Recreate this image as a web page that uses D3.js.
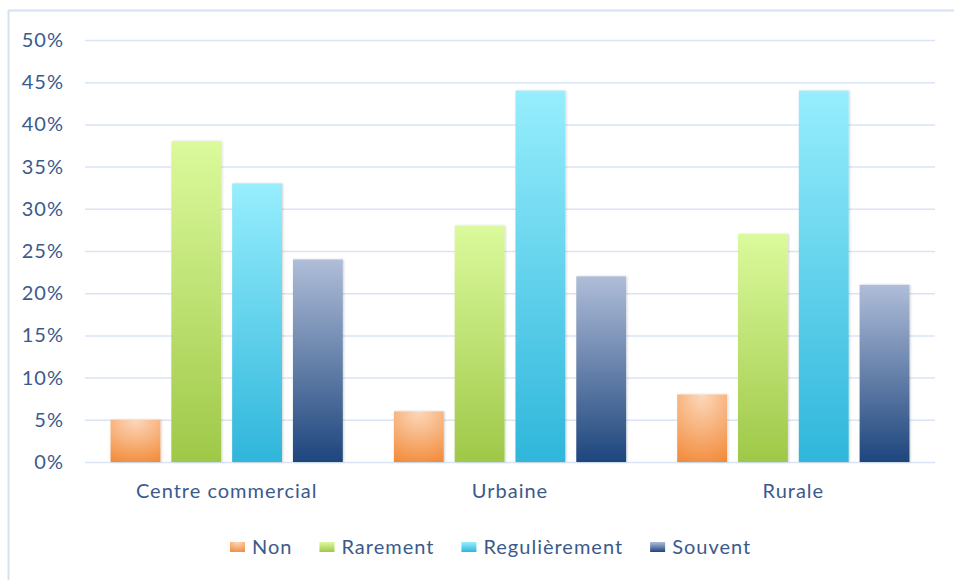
<!DOCTYPE html>
<html><head><meta charset="utf-8">
<script src="https://cdn.jsdelivr.net/npm/d3@7"></script>
<style>
html,body{margin:0;padding:0;background:#fff;}
svg{display:block;}
text{font-family:Lato,"Open Sans",sans-serif;fill:#3b5a8c;letter-spacing:1px;}
</style></head><body>
<svg id="chart" width="954" height="580"></svg>
<script>
const categories = ["Centre commercial", "Urbaine", "Rurale"];
const seriesNames = ["Non", "Rarement", "Regulièrement", "Souvent"];
const nonValues = [5, 6, 8];
const rarementValues = [38, 28, 27];
const regulierementValues = [33, 44, 44];
const souventValues = [24, 22, 21];
const yTicks = [0, 5, 10, 15, 20, 25, 30, 35, 40, 45, 50];
const seriesValues = [nonValues, rarementValues, regulierementValues, souventValues];
const gradStops = [
  ["#fcd8bc", "#f28a38"],
  ["#dbfa9c", "#9fc848"],
  ["#97eefd", "#2fb6db"],
  ["#afbdd8", "#1e467d"]
];

const svg = d3.select("#chart");
const margin = {left: 85, right: 19, top: 40, bottom: 118};
const W = 954, H = 580;
const FS = 20;
const x0 = d3.scaleBand().domain(categories).range([margin.left, W - margin.right]).paddingInner(0).paddingOuter(0);
const x1 = d3.scaleBand().domain(seriesNames).range([0, x0.bandwidth()]).paddingInner(0.18).paddingOuter(0.42);
const y = d3.scaleLinear().domain([0, 50]).range([H - margin.bottom, margin.top]);

const defs = svg.append("defs");
gradStops.forEach((s, i) => {
  if (i === 0) {
    const g = defs.append("radialGradient").attr("id", "g" + i).attr("cx", "50%").attr("cy", "0%").attr("r", "110%");
    g.append("stop").attr("offset", "0%").attr("stop-color", s[0]);
    g.append("stop").attr("offset", "100%").attr("stop-color", s[1]);
  } else {
    const g = defs.append("linearGradient").attr("id", "g" + i).attr("x1", 0).attr("y1", 0).attr("x2", 0).attr("y2", 1);
    g.append("stop").attr("offset", "0%").attr("stop-color", s[0]);
    g.append("stop").attr("offset", "100%").attr("stop-color", s[1]);
  }
});
const f = defs.append("filter").attr("id", "sh").attr("x", "-20%").attr("y", "-20%").attr("width", "140%").attr("height", "140%");
f.append("feDropShadow").attr("dx", 1).attr("dy", 0).attr("stdDeviation", 1.2).attr("flood-color", "#000").attr("flood-opacity", 0.18);

// frame
svg.append("line").attr("x1", 8).attr("x2", W).attr("y1", 10.5).attr("y2", 10.5).attr("stroke", "#d5e2f3").attr("stroke-width", 2);
svg.append("line").attr("x1", 8.5).attr("x2", 8.5).attr("y1", 10).attr("y2", H).attr("stroke", "#d5e2f3").attr("stroke-width", 2);

// gridlines + y labels
const yAxis = d3.axisLeft(y).tickValues(yTicks).tickSize(-(W - margin.left - margin.right)).tickFormat(d => d + "%").tickPadding(21);
const ga = svg.append("g").attr("transform", `translate(${margin.left},0)`).call(yAxis);
ga.select(".domain").remove();
ga.selectAll(".tick line").attr("stroke", "#d9e4f4").attr("stroke-width", 1.5);
ga.selectAll(".tick text").attr("font-size", FS).style("fill", "#3b5a8c").attr("font-family", "Lato, 'Open Sans', sans-serif");

// bars
const groups = svg.append("g").selectAll("g").data(categories).join("g")
  .attr("transform", d => `translate(${x0(d)},0)`);
groups.selectAll("rect").data((c, ci) => seriesNames.map((s, si) => ({s, si, v: seriesValues[si][ci]})))
  .join("rect")
  .attr("x", d => x1(d.s))
  .attr("width", x1.bandwidth())
  .attr("y", d => y(d.v))
  .attr("height", d => y(0) - y(d.v))
  .attr("fill", d => `url(#g${d.si})`)
  .attr("filter", "url(#sh)");

// x labels
const xAxis = d3.axisBottom(x0).tickSize(0).tickPadding(22);
const gx = svg.append("g").attr("transform", `translate(0,${y(0)})`).call(xAxis);
gx.select(".domain").remove();
gx.selectAll(".tick text").attr("font-size", FS).style("fill", "#3b5a8c").attr("font-family", "Lato, 'Open Sans', sans-serif");

// legend
const legend = svg.append("g").attr("transform", "translate(0,547)");
let lx = 230;
seriesNames.forEach((s, i) => {
  const item = legend.append("g").attr("transform", `translate(${lx},0)`);
  item.append("rect").attr("x", 0).attr("y", -5).attr("width", 15).attr("height", 10).attr("fill", `url(#g${i})`);
  const t = item.append("text").attr("x", 22).attr("y", 0).attr("dy", "0.35em").attr("font-size", FS).text(s);
  const w = t.node().getComputedTextLength();
  lx += 22 + w + 27;
});
</script>
</body></html>
